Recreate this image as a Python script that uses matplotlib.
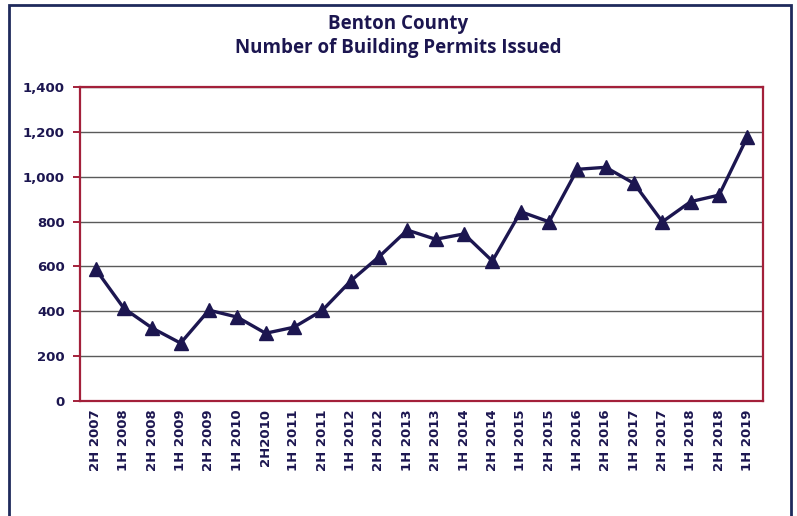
import numpy as np
import matplotlib
matplotlib.use("Agg")
import matplotlib.pyplot as plt
from matplotlib.patches import Rectangle

# data
periods = ["2H 2007", "1H 2008", "2H 2008", "1H 2009", "2H 2009", "1H 2010",
           "2H2010", "1H 2011", "2H 2011", "1H 2012", "2H 2012", "1H 2013",
           "2H 2013", "1H 2014", "2H 2014", "1H 2015", "2H 2015", "1H 2016",
           "2H 2016", "1H 2017", "2H 2017", "1H 2018", "2H 2018", "1H 2019"]
permits = [588, 413, 325, 258, 405, 374, 302, 329, 404, 535, 643, 762,
           721, 745, 624, 844, 799, 1033, 1042, 970, 799, 889, 918, 1178]
yticks = [0, 200, 400, 600, 800, 1000, 1200, 1400]

navy = "#1c1650"
red = "#a3203a"

fig = plt.figure(figsize=(7.97, 5.16), dpi=100)
ax = fig.add_axes([80 / 797, 1 - 401 / 516, 683 / 797, 314 / 516])

x = np.arange(len(periods))
ax.plot(x, permits, color=navy, lw=2.4, marker="^", ms=10,
        markerfacecolor=navy, markeredgecolor=navy, zorder=3)

ax.set_xlim(-0.55, len(periods) - 0.45)
ax.set_ylim(0, 1400)
ax.set_yticks(yticks)
ax.set_yticklabels([f"{v:,}" for v in yticks])
ax.set_xticks(x)
ax.set_xticklabels(periods, rotation=90)

for t in ax.get_yticklabels() + ax.get_xticklabels():
    t.set_fontweight("bold")
    t.set_color(navy)
    t.set_fontsize(9.5)
    t.set_family("DejaVu Sans")

ax.grid(axis="y", color="#5a5a5a", lw=1)
ax.set_axisbelow(True)
for s in ax.spines.values():
    s.set_color(red)
    s.set_linewidth(1.6)
ax.tick_params(axis="y", color=red, length=5, width=1.4, pad=6)
ax.tick_params(axis="x", length=0, pad=6)

fig.text(0.5, 1 - 24 / 516, "Benton County", ha="center", va="center",
         fontsize=13.5, fontweight="bold", color=navy, family="Open Sans")
fig.text(0.5, 1 - 48 / 516, "Number of Building Permits Issued", ha="center",
         va="center", fontsize=13.5, fontweight="bold", color=navy,
         family="Open Sans")

# outer chart border (runs off the bottom of the image)
fig.patches.append(Rectangle((9 / 797, -0.1), 782 / 797, 1.1 - 5 / 516,
                             transform=fig.transFigure, fill=False,
                             edgecolor="#1f2a5c", lw=2))

fig.savefig("out.png", dpi=100)
